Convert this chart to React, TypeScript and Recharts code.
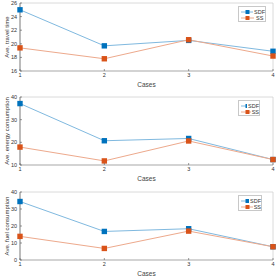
import { LineChart, Line, XAxis, YAxis, Legend, ReferenceLine } from 'recharts'

const cases = [1, 2, 3, 4]
const travelSDF = [25, 19.7, 20.5, 18.9]
const travelSS = [19.4, 17.8, 20.6, 18.2]
const energySDF = [37.1, 20.7, 21.7, 12.4]
const energySS = [17.9, 11.8, 20.6, 12.4]
const fuelSDF = [34.4, 16.8, 18.4, 7.8]
const fuelSS = [13.9, 6.8, 17, 7.8]

const travelTicks = [16, 18, 20, 22, 24, 26]
const energyTicks = [10, 20, 30, 40]
const fuelTicks = [0, 10, 20, 30, 40]

const FONT = '"Liberation Sans", Arial, sans-serif'
const BLUE = '#0072BD'
const ORANGE = '#D95319'
const BLUE_LINE = '#80b9df'
const ORANGE_LINE = '#eda98c'

const rows = (sdf: number[], ss: number[]) =>
  cases.map((c, i) => ({ c, sdf: sdf[i], ss: ss[i] }))

const SquareDot = (color: string) => (props: any) => {
  const { cx, cy } = props
  if (cx == null || cy == null) return null
  return <rect x={cx - 2.7} y={cy - 2.7} width={5.4} height={5.4} fill={color} />
}

const XTick = (props: any) => {
  const { x, y, payload } = props
  return (
    <g>
      <line x1={x} x2={x} y1={y} y2={y - 2} stroke="#555" strokeWidth={0.6} />
      <text x={x} y={y + 6} textAnchor="middle" fontSize={5.5} fill="#333" fontFamily={FONT}>
        {payload.value}
      </text>
    </g>
  )
}

const YTick = (props: any) => {
  const { x, y, payload } = props
  return (
    <g>
      <line x1={x} x2={x + 2} y1={y} y2={y} stroke="#555" strokeWidth={0.6} />
      <text x={x - 3} y={y + 2} textAnchor="end" fontSize={5.5} fill="#333" fontFamily={FONT}>
        {payload.value}
      </text>
    </g>
  )
}

const LegendBox = ({ width }: { width: number }) => (
  <div
    style={{
      width,
      height: 16,
      boxSizing: 'border-box',
      border: '1px solid #c8c8c8',
      background: '#fff',
      fontFamily: FONT,
      fontSize: 5.5,
      color: '#333',
      paddingTop: 1.5,
    }}
  >
    {[
      { name: 'SDF', line: BLUE_LINE, mark: BLUE },
      { name: 'SS', line: ORANGE_LINE, mark: ORANGE },
    ].map((s) => (
      <div key={s.name} style={{ display: 'flex', alignItems: 'center', height: 6 }}>
        <svg width={15} height={6} style={{ marginLeft: 1 }}>
          <line x1={1} x2={14} y1={3} y2={3} stroke={s.line} strokeWidth={1} />
          <rect x={5.5} y={1} width={4} height={4} fill={s.mark} />
        </svg>
        <span style={{ marginLeft: 1 }}>{s.name}</span>
      </div>
    ))}
  </div>
)

type PanelProps = {
  top: number
  label: string
  sdf: number[]
  ss: number[]
  ticks: number[]
  legendWidth: number
}

function Panel({ top, label, sdf, ss, ticks, legendWidth }: PanelProps) {
  const lo = ticks[0]
  const hi = ticks[ticks.length - 1]
  return (
    <div style={{ position: 'absolute', top, left: 0 }}>
      <LineChart
        width={279}
        height={91}
        data={rows(sdf, ss)}
        margin={{ top: 3, right: 6, left: 0, bottom: 0 }}
      >
        <XAxis
          dataKey="c"
          type="number"
          domain={[1, 4]}
          ticks={cases}
          interval={0}
          height={20}
          tickSize={0}
          tickMargin={0}
          tick={<XTick />}
          axisLine={{ stroke: '#c4c4c4', strokeWidth: 1.5 }}
          label={{ value: 'Cases', position: 'insideBottom', offset: 4, fontSize: 6.5, fill: '#444', fontFamily: FONT }}
        />
        <YAxis
          type="number"
          domain={[lo, hi]}
          ticks={ticks}
          interval={0}
          width={20}
          tickSize={0}
          tickMargin={0}
          tick={<YTick />}
          axisLine={{ stroke: '#555', strokeWidth: 0.8 }}
          label={{
            value: label,
            angle: -90,
            position: 'insideLeft',
            offset: 7,
            fontSize: 6,
            fill: '#333',
            fontFamily: FONT,
            style: { textAnchor: 'middle' },
          }}
        />
        <ReferenceLine y={hi} stroke="#d0d0d0" strokeWidth={0.8} />
        <ReferenceLine x={4} stroke="#d0d0d0" strokeWidth={0.8} />
        <Legend
          layout="horizontal"
          align="center"
          verticalAlign="middle"
          wrapperStyle={{ top: 6, left: 238, width: legendWidth, height: 16 }}
          content={() => <LegendBox width={legendWidth} />}
        />
        <Line
          type="linear"
          dataKey="sdf"
          name="SDF"
          stroke={BLUE_LINE}
          strokeWidth={1}
          dot={SquareDot(BLUE)}
          activeDot={false}
          isAnimationActive={false}
        />
        <Line
          type="linear"
          dataKey="ss"
          name="SS"
          stroke={ORANGE_LINE}
          strokeWidth={1}
          dot={SquareDot(ORANGE)}
          activeDot={false}
          isAnimationActive={false}
        />
      </LineChart>
    </div>
  )
}

export default function App() {
  return (
    <div style={{ position: 'absolute', top: 0, left: 0, width: 279, height: 277, background: '#fff' }}>
      <Panel top={0} label="Ave. travel time" sdf={travelSDF} ss={travelSS} ticks={travelTicks} legendWidth={28} />
      <Panel top={94} label="Ave. energy consumption" sdf={energySDF} ss={energySS} ticks={energyTicks} legendWidth={22} />
      <Panel top={189} label="Ave. fuel consumption" sdf={fuelSDF} ss={fuelSS} ticks={fuelTicks} legendWidth={24} />
    </div>
  )
}
